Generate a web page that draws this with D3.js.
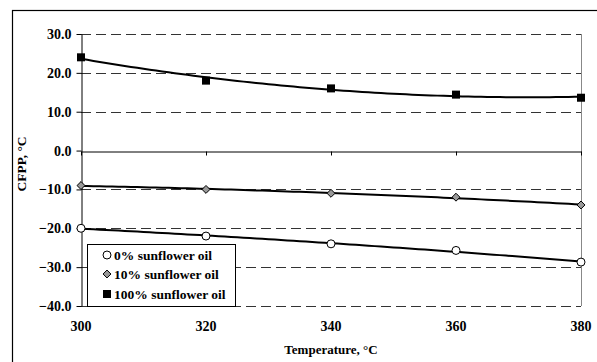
<!DOCTYPE html>
<html>
<head>
<meta charset="utf-8">
<script src="https://cdn.jsdelivr.net/npm/d3@7"></script>
<style>
  body { margin: 0; background: #fff; }
</style>
</head>
<body>
<div id="chart"></div>
<script>
const temps = [300, 320, 340, 360, 380];
const oil0 = [-20, -22, -24, -25.7, -28.7];
const oil10 = [-9, -10, -11, -12, -14];
const oil100 = [24, 18, 16, 14.4, 13.6];
const yTicks = [-40, -30, -20, -10, 0, 10, 20, 30];
const xTicks = [300, 320, 340, 360, 380];
const seriesNames = ["0% sunflower oil", "10% sunflower oil", "100% sunflower oil"];

const FONT = "'Liberation Serif', 'Times New Roman', Times, serif";
const width = 597, height = 362;
const margin = { left: 81, right: 16, top: 34, bottom: 56 };

const svg = d3.select('#chart').append('svg')
    .attr('width', width)
    .attr('height', height)
    .attr('font-family', FONT)
    .attr('font-weight', 'bold');

// outer chart frame (cropped at right and bottom)
svg.append('rect')
    .attr('x', 12.5).attr('y', 10.5)
    .attr('width', 600).attr('height', 400)
    .attr('fill', 'none').attr('stroke', '#000').attr('stroke-width', 1.2);

const x = d3.scaleLinear().domain([300, 380]).range([margin.left, width - margin.right]);
const y = d3.scaleLinear().domain([-40, 30]).range([height - margin.bottom, margin.top]);

// dashed gridlines
svg.append('g').selectAll('line')
    .data(yTicks.filter(d => d !== 0))
    .enter().append('line')
    .attr('x1', x(300)).attr('x2', x(380))
    .attr('y1', d => Math.round(y(d)) + 0.5).attr('y2', d => Math.round(y(d)) + 0.5)
    .attr('stroke', '#333')
    .attr('stroke-dasharray', '10,5');

// right border of plot
svg.append('line')
    .attr('x1', Math.round(x(380)) + 0.5).attr('x2', Math.round(x(380)) + 0.5)
    .attr('y1', y(30)).attr('y2', y(-40))
    .attr('stroke', '#888').attr('stroke-width', 1);

// y axis
const yAxis = svg.append('g')
    .attr('transform', `translate(${Math.round(x(300)) + 0.5},0)`)
    .call(d3.axisLeft(y).tickValues(yTicks).tickFormat(d3.format('.1f')).tickSize(5).tickSizeOuter(0));
yAxis.attr('font-family', FONT).attr('font-size', 14);
yAxis.select('.domain').attr('stroke', '#000');
yAxis.selectAll('text').attr('fill', '#000').attr('dx', -2)
    .style('font-family', FONT).style('font-weight', 'bold').style('font-size', '14px');

// x axis at y = 0
const xAxis = svg.append('g')
    .attr('transform', `translate(0,${Math.round(y(0)) + 0.5})`)
    .call(d3.axisBottom(x).tickValues(xTicks).tickFormat('').tickSize(4).tickSizeOuter(0));
xAxis.select('.domain').attr('stroke', '#000');

// x tick labels at bottom
svg.append('g').selectAll('text')
    .data(xTicks)
    .enter().append('text')
    .attr('x', d => x(d))
    .attr('y', 331)
    .attr('text-anchor', 'middle')
    .attr('font-size', 14)
    .text(d => d);

// axis titles
svg.append('text')
    .attr('x', (x(300) + x(380)) / 2)
    .attr('y', 354)
    .attr('text-anchor', 'middle')
    .attr('font-size', 13)
    .text('Temperature, °C');

svg.append('text')
    .attr('transform', 'translate(26,164) rotate(-90)')
    .attr('text-anchor', 'middle')
    .attr('font-size', 13.5)
    .text('CFPP, °C');

// quadratic least-squares trend line computed from the series
function quadFit(xs, ys) {
    const xm = d3.mean(xs);
    const t = xs.map(v => (v - xm) / 20);
    const tm = d3.mean(t), t2m = d3.mean(t.map(v => v * v));
    const p2 = t.map(v => v * v - t2m);
    const ym = d3.mean(ys);
    const b = d3.sum(t.map((v, i) => (v - tm) * ys[i])) / d3.sum(t.map(v => (v - tm) * (v - tm)));
    const c = d3.sum(p2.map((v, i) => v * ys[i])) / d3.sum(p2.map(v => v * v));
    return v => { const tt = (v - xm) / 20; return ym + b * (tt - tm) + c * (tt * tt - t2m); };
}

const line = d3.line().x(d => x(d[0])).y(d => y(d[1]));
[oil0, oil10, oil100].forEach(vals => {
    const f = quadFit(temps, vals);
    const pts = d3.range(300, 380.01, 1).map(t => [t, f(t)]);
    svg.append('path')
        .attr('d', line(pts))
        .attr('fill', 'none')
        .attr('stroke', '#000')
        .attr('stroke-width', 2);
});

// markers
svg.append('g').selectAll('circle')
    .data(temps.map((t, i) => [t, oil0[i]]))
    .enter().append('circle')
    .attr('cx', d => x(d[0])).attr('cy', d => y(d[1]))
    .attr('r', 4)
    .attr('fill', '#fff').attr('stroke', '#000').attr('stroke-width', 1);

const diamond = d3.symbol().type(d3.symbolDiamond2).size(40);
svg.append('g').selectAll('path')
    .data(temps.map((t, i) => [t, oil10[i]]))
    .enter().append('path')
    .attr('d', diamond)
    .attr('transform', d => `translate(${x(d[0])},${y(d[1])})`)
    .attr('fill', '#999').attr('stroke', '#000').attr('stroke-width', 1);

svg.append('g').selectAll('rect')
    .data(temps.map((t, i) => [t, oil100[i]]))
    .enter().append('rect')
    .attr('x', d => x(d[0]) - 4).attr('y', d => y(d[1]) - 4)
    .attr('width', 8).attr('height', 8)
    .attr('fill', '#000');

// legend
const legend = svg.append('g').attr('transform', 'translate(87,244)');
legend.append('rect')
    .attr('x', 0.5).attr('y', 0.5).attr('width', 148).attr('height', 62)
    .attr('fill', '#fff').attr('stroke', '#000').attr('stroke-width', 1);
const rowY = [11, 30, 50];
legend.append('circle').attr('cx', 20).attr('cy', rowY[0]).attr('r', 4)
    .attr('fill', '#fff').attr('stroke', '#000');
legend.append('path').attr('d', diamond).attr('transform', `translate(20,${rowY[1]})`)
    .attr('fill', '#999').attr('stroke', '#000');
legend.append('rect').attr('x', 16).attr('y', rowY[2] - 4).attr('width', 8).attr('height', 8)
    .attr('fill', '#000');
legend.selectAll('text.lbl')
    .data(seriesNames)
    .enter().append('text')
    .attr('class', 'lbl')
    .attr('x', 27)
    .attr('y', (d, i) => rowY[i] + 4.5)
    .attr('font-size', 13.5)
    .text(d => d);
</script>
</body>
</html>
